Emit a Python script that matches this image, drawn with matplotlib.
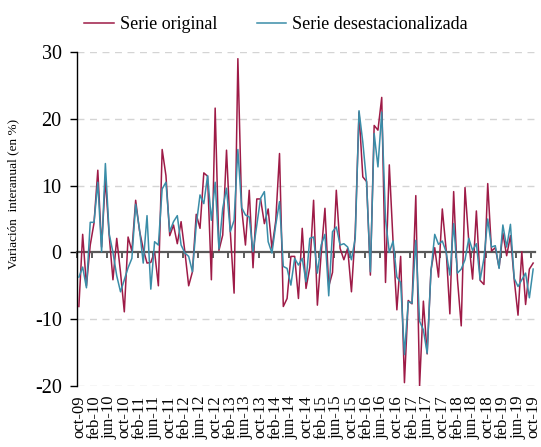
import matplotlib
matplotlib.use("Agg")
import matplotlib.pyplot as plt
import numpy as np

serie_original = [
    -8.1, 2.7, -5.0, 1.1, 4.4, 12.3, 0.8, 11.0, 2.6, -4.1,
    2.1, -3.0, -8.9, 2.3, 0.2, 7.8, 3.3, 0.5, -1.6, -1.5,
    0.1, -5.0, 15.4, 11.5, 2.5, 4.1, 1.3, 4.6, 0.1, -5.0,
    -2.9, 5.7, 3.6, 11.9, 11.4, -4.1, 21.6, 0.3, 2.6, 15.3,
    3.1, -6.1, 29.0, 6.6, 1.1, 9.3, -2.3, 8.0, 8.0, 4.3,
    6.5, 0.6, 4.7, 14.8, -8.1, -6.9, -0.6, -0.6, -6.9, 3.6,
    -5.4, -2.2, 7.8, -7.9, -0.2, 6.6, -5.1, -3.0, 9.3, 0.6,
    -1.1, 0.6, -5.9, 3.0, 21.0, 11.3, 10.6, -3.4, 19.0, 18.3,
    23.2, -4.5, 13.1, 1.5, -8.6, -0.6, -19.5, -7.2, -7.7, 8.5,
    -20.0, -7.3, -15.2, -2.7, 0.7, -3.7, 6.5, 0.5, -9.2, 9.1,
    -4.0, -11.0, 9.7, 1.6, -4.0, 6.2, -4.2, -4.8, 10.3, 0.2,
    0.7, -2.3, 2.9, -0.5, 2.5, -4.1, -9.4, 0.1, -7.8, -2.5,
    -1.6,
]

serie_desest = [
    -3.7, -2.2, -5.3, 4.5, 4.5, 10.5, 0.1, 13.3, 2.8, 0.0,
    -3.5, -5.9, -4.1, -2.3, -0.9, 7.2, 3.5, -1.6, 5.5, -5.5,
    1.6, 1.1, 9.5, 10.5, 3.1, 4.6, 5.5, 1.1, -0.1, -0.6,
    -2.9, 4.1, 8.6, 7.3, 11.5, 4.8, 10.5, 0.5, 6.6, 9.6,
    3.1, 4.8, 15.4, 6.7, 5.6, 5.3, 0.1, 4.1, 8.1, 9.1,
    1.6, -0.1, 4.1, 7.6, -2.1, -2.4, -4.9, -0.9, -1.9, -0.9,
    -4.4, 2.1, 2.3, -3.1, 1.1, 2.7, -6.5, 3.1, 3.8, 1.1,
    1.3, 0.8, -1.1, 2.1, 21.2, 16.5, 10.5, -2.9, 17.8, 12.8,
    21.0, 5.0, 0.0, 1.7, -3.7, -4.5, -15.3, -7.4, -7.6, 1.8,
    -10.3, -11.6, -15.1, -2.9, 2.7, 1.2, 1.7, 0.1, -3.4, 4.3,
    -3.1, -2.5, -1.1, 2.1, 0.3, 1.3, -4.1, -0.9, 5.0, 0.8,
    1.0, -2.4, 4.1, 0.8, 4.2, -3.9, -5.1, -4.1, -3.1, -6.8,
    -2.5,
]

tick_labels = [
    "oct-09", "feb-10", "jun-10", "oct-10", "feb-11", "jun-11", "oct-11",
    "feb-12", "jun-12", "oct-12", "feb-13", "jun-13", "oct-13", "feb-14",
    "jun-14", "oct-14", "feb-15", "jun-15", "oct-15", "feb-16", "jun-16",
    "oct-16", "feb-17", "jun-17", "oct-17", "feb-18", "jun-18", "oct-18",
    "feb-19", "jun-19", "oct-19",
]

y_ticks = [-20, -10, 0, 10, 20, 30]

RED = "#9E1B47"
BLUE = "#3A8DA8"
plt.rcParams["font.family"] = ["Liberation Serif", "DejaVu Serif"]

fig = plt.figure(figsize=(5.41, 4.47), dpi=100)
ax = fig.add_axes([0.1423, 0.1365, 0.989 - 0.1423, 0.8837 - 0.1365])

x = np.arange(len(serie_original))
ax.plot(x, serie_original, color=RED, lw=1.1, label="Serie original", zorder=3)
ax.plot(x, serie_desest, color=BLUE, lw=1.1, label="Serie desestacionalizada", zorder=4)

ax.set_xlim(-0.5, len(x) - 0.5)
ax.set_ylim(-20, 30)
ax.set_yticks(y_ticks)
ax.set_yticklabels([str(v) for v in y_ticks], fontsize=14.5)
ax.tick_params(axis="y", direction="out", length=5, width=1, color="black", pad=6)

for v in y_ticks:
    if v != 0:
        ax.axhline(v, color="#D4D4D4", lw=1.0, ls=(0, (5, 4)), zorder=1)

ax.spines["top"].set_visible(False)
ax.spines["right"].set_visible(False)
ax.spines["left"].set_color("black")
ax.spines["left"].set_linewidth(1.0)
ax.spines["bottom"].set_position(("data", 0))
ax.spines["bottom"].set_color("#595959")
ax.spines["bottom"].set_linewidth(1.6)
ax.spines["bottom"].set_zorder(2)

ax.set_xticks(np.arange(-0.5, len(x), 4))
ax.set_xticklabels([])
ax.tick_params(axis="x", direction="out", length=4, width=1.2, color="#404040")

sec = ax.secondary_xaxis("bottom")
sec.set_xticks(np.arange(0, len(x), 4))
sec.set_xticklabels(tick_labels, rotation=90, fontsize=12)
sec.tick_params(length=0, pad=7)
sec.spines["bottom"].set_visible(False)

ax.set_ylabel("Variación  interanual (en %)", fontsize=9.5)
ax.yaxis.set_label_coords(-0.125, 0.575)

fig.legend(loc="upper center", bbox_to_anchor=(0.51, 1.0), ncol=2, frameon=False,
           fontsize=13, handlelength=1.65, columnspacing=2.2, handletextpad=0.3)

fig.savefig("out.png", dpi=100)
